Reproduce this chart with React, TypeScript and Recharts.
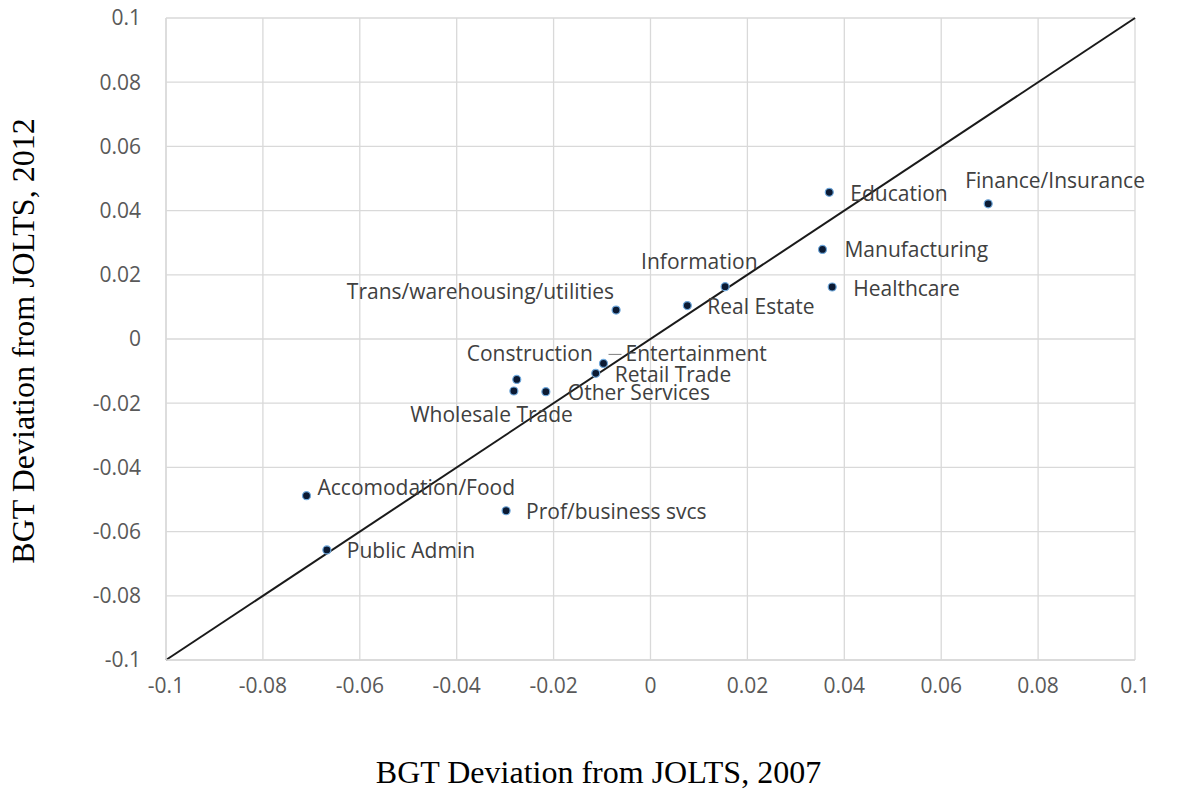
import { ScatterChart, Scatter, XAxis, YAxis, CartesianGrid, ReferenceLine, Label } from 'recharts'

const industries = [
  'Education',
  'Finance/Insurance',
  'Manufacturing',
  'Healthcare',
  'Information',
  'Real Estate',
  'Trans/warehousing/utilities',
  'Entertainment',
  'Retail Trade',
  'Construction',
  'Wholesale Trade',
  'Other Services',
  'Accomodation/Food',
  'Prof/business svcs',
  'Public Admin',
]
const dev2007 = [0.0369, 0.0697, 0.0355, 0.0375, 0.0154, 0.0076, -0.0071, -0.0097, -0.0113, -0.0276, -0.0282, -0.0216, -0.071, -0.0298, -0.0668]
const dev2012 = [0.0457, 0.0421, 0.0279, 0.0162, 0.0163, 0.0104, 0.009, -0.0076, -0.0107, -0.0126, -0.0162, -0.0164, -0.0488, -0.0535, -0.0657]
const axisTicks = [-0.1, -0.08, -0.06, -0.04, -0.02, 0, 0.02, 0.04, 0.06, 0.08, 0.1]

// label placement relative to each dot: dx, dy, anchor
const labelPos: Record<string, [number, number, 'start' | 'end']> = {
  'Education': [21, 1, 'start'],
  'Finance/Insurance': [-23, -24, 'start'],
  'Manufacturing': [22, 0, 'start'],
  'Healthcare': [21, 1, 'start'],
  'Information': [-84, -26, 'start'],
  'Real Estate': [20, 0, 'start'],
  'Trans/warehousing/utilities': [-2, -19, 'end'],
  'Entertainment': [22, -10, 'start'],
  'Retail Trade': [19, 1, 'start'],
  'Construction': [76, -26, 'end'],
  'Wholesale Trade': [59, 23, 'end'],
  'Other Services': [22, 0, 'start'],
  'Accomodation/Food': [11, -9, 'start'],
  'Prof/business svcs': [20, 0, 'start'],
  'Public Admin': [20, 0, 'start'],
}

const data = industries.map((name, i) => ({ name, x: dev2007[i], y: dev2012[i] }))

const sans = '"Open Sans", "Noto Sans", sans-serif'
const serif = '"Liberation Serif", "Times New Roman", serif'

function Dot(props: any) {
  const { cx, cy, payload } = props
  const [dx, dy, anchor] = labelPos[payload.name]
  return (
    <g>
      <circle cx={cx} cy={cy} r={4} fill="#0b1a33" stroke="#6fa8dc" strokeWidth={1.2} />
      {payload.name === 'Entertainment' && (
        <line x1={cx + 5} y1={cy - 9} x2={cx + 18} y2={cy - 9} stroke="#7f7f7f" strokeWidth={1} />
      )}
      <text
        x={cx + dx}
        y={cy + dy}
        textAnchor={anchor}
        dominantBaseline="central"
        fontFamily={sans}
        fontSize={21}
        fill="#404040"
      >
        {payload.name}
      </text>
    </g>
  )
}

export default function App() {
  return (
    <div style={{ position: 'absolute', left: 0, top: 0, width: 1180, height: 791, background: '#fff' }}>
      <ScatterChart width={1180} height={791} margin={{ top: 18, right: 45, left: 0, bottom: 0 }}>
        <CartesianGrid stroke="#d9d9d9" strokeWidth={1.3} />
        <XAxis
          type="number"
          dataKey="x"
          domain={[-0.1, 0.1]}
          ticks={axisTicks}
          interval={0}
          height={131}
          axisLine={{ stroke: '#d9d9d9', strokeWidth: 1.3 }}
          tickLine={false}
          tickMargin={12}
          tick={{ fontSize: 21, fontFamily: sans, fill: '#595959' }}
        >
          <Label
            content={(p: any) => (
              <text
                x={p.viewBox.x + p.viewBox.width / 2 - 52}
                y={783}
                textAnchor="middle"
                fontFamily={serif}
                fontSize={32}
                fill="#000"
              >
                BGT Deviation from JOLTS, 2007
              </text>
            )}
          />
        </XAxis>
        <YAxis
          type="number"
          dataKey="y"
          domain={[-0.1, 0.1]}
          ticks={axisTicks}
          interval={0}
          width={166}
          axisLine={{ stroke: '#d9d9d9', strokeWidth: 1.3 }}
          tickLine={false}
          tickMargin={19}
          tick={{ fontSize: 21, fontFamily: sans, fill: '#595959' }}
        >
          <Label
            content={() => (
              <text
                x={0}
                y={0}
                transform="translate(34, 341) rotate(-90)"
                textAnchor="middle"
                fontFamily={serif}
                fontSize={32}
                fill="#000"
              >
                BGT Deviation from JOLTS, 2012
              </text>
            )}
          />
        </YAxis>
        <ReferenceLine
          segment={[{ x: -0.1, y: -0.1 }, { x: 0.1, y: 0.1 }]}
          stroke="#1a1a1a"
          strokeWidth={2}
          ifOverflow="visible"
        />
        <Scatter data={data} shape={<Dot />} isAnimationActive={false} />
      </ScatterChart>
    </div>
  )
}
